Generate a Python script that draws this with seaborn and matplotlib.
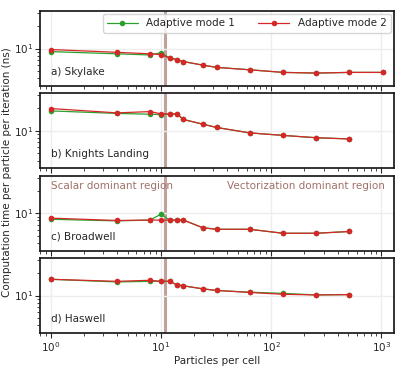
import matplotlib
matplotlib.use("Agg")
import matplotlib.pyplot as plt
import matplotlib.ticker as mticker
import seaborn as sns
import pandas as pd

# particles per cell
ppc = [1, 4, 8, 10, 12, 14, 16, 24, 32, 64, 128, 256, 512, 1024]

archs = ["a) Skylake", "b) Knights Landing", "c) Broadwell", "d) Haswell"]

# computation time per particle per iteration (ns)
mode1 = {
    "a) Skylake": [9.1, 8.5, 8.2, 8.8, 7.5, 7.1, 6.7, 6.0, 5.6, 5.2, 4.8, 4.7, 4.8, 4.8],
    "b) Knights Landing": [18.5, 17.1, 16.7, 16.5, 16.8, 16.9, 14.2, 12.3, 11.1, 9.4, 8.7, 8.1, 7.8],
    "c) Broadwell": [8.3, 7.9, 8.1, 9.7, 8.1, 8.1, 8.1, 6.4, 6.1, 6.1, 5.4, 5.4, 5.7],
    "d) Haswell": [16.5, 15.2, 15.5, 15.5, 15.5, 13.9, 13.5, 12.3, 11.7, 11.1, 10.7, 10.2, 10.3],
}
mode2 = {
    "a) Skylake": [9.7, 8.9, 8.5, 8.3, 7.5, 7.1, 6.7, 6.0, 5.6, 5.2, 4.8, 4.7, 4.8, 4.8],
    "b) Knights Landing": [19.9, 17.4, 18.1, 16.9, 16.9, 16.9, 14.2, 12.3, 11.1, 9.4, 8.7, 8.1, 7.8],
    "c) Broadwell": [8.6, 8.0, 8.1, 8.1, 8.1, 8.1, 8.1, 6.4, 6.1, 6.1, 5.4, 5.4, 5.7],
    "d) Haswell": [16.5, 15.5, 16.0, 15.5, 15.5, 13.9, 13.5, 12.3, 11.7, 11.0, 10.4, 10.2, 10.3],
}

threshold = 11

sns.set_theme(style="ticks")
plt.rcParams["font.family"] = ["DejaVu Sans"]
plt.rcParams["font.size"] = 7.5
plt.rcParams["xtick.labelsize"] = 7.5
plt.rcParams["ytick.labelsize"] = 7.5
plt.rcParams["axes.edgecolor"] = "0.1"

fig, axes = plt.subplots(4, 1, figsize=(4.07, 3.70), dpi=100, sharex=True)
fig.subplots_adjust(left=0.098, right=0.968, top=0.970, bottom=0.100, hspace=0.1)

for ax, arch in zip(axes, archs):
    for vals, color, label in [(mode1[arch], "tab:green", "Adaptive mode 1"),
                               (mode2[arch], "tab:red", "Adaptive mode 2")]:
        df = pd.DataFrame({"ppc": ppc[:len(vals)], "time": vals})
        sns.lineplot(data=df, x="ppc", y="time", ax=ax, color=color, marker="o",
                     markersize=4, markeredgewidth=0, linewidth=0.9, label=label,
                     legend=False)
    ax.axvline(threshold, color="tab:brown", alpha=0.55, linewidth=2.2, zorder=0)
    ax.set_xscale("log")
    ax.set_yscale("log")
    ax.set_xlim(0.8, 1300)
    ax.set_ylim(10 ** 0.5, 10 ** 1.5)
    ax.yaxis.set_minor_formatter(mticker.NullFormatter())
    ax.grid(True, which="major", color="0.93", linewidth=1)
    ax.tick_params(which="major", length=3.5, width=0.8, pad=1.5)
    ax.tick_params(which="minor", length=2, width=0.6)
    ax.set_xlabel("")
    ax.set_ylabel("")
    ax.text(0.03, 0.19, arch, transform=ax.transAxes, fontsize=7.5, color="0.15",
            va="center")

axes[0].legend(loc="upper right", ncol=2, fontsize=7.5, frameon=True,
               handlelength=3, columnspacing=2.2, borderaxespad=0.3)

axes[2].text(0.03, 0.86, "Scalar dominant region", transform=axes[2].transAxes,
             fontsize=7.5, color="#a0706a", va="center")
axes[2].text(0.975, 0.86, "Vectorization dominant region", transform=axes[2].transAxes,
             fontsize=7.5, color="#a0706a", va="center", ha="right")

axes[-1].set_xlabel("Particles per cell", fontsize=7.5, labelpad=1.5)
fig.text(0.004, 0.535, "Computation time per particle per iteration (ns)",
         rotation=90, va="center", ha="left", fontsize=7.5)

fig.savefig("out.png", dpi=100)
